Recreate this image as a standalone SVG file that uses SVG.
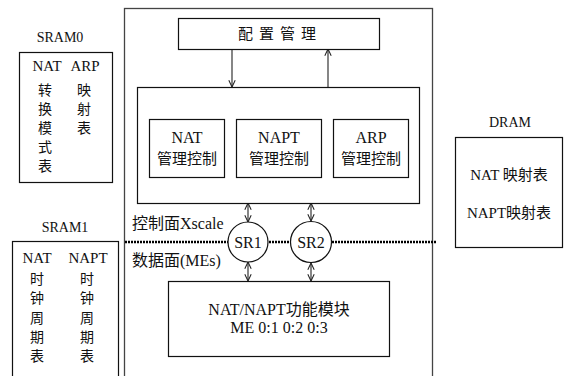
<svg xmlns="http://www.w3.org/2000/svg" width="564" height="376" viewBox="0 0 564 376">
  <style>
    text { font-family: "Liberation Serif", "Times New Roman", "Noto Sans CJK SC", serif; fill: #111; }
    .lat { font-family: "Liberation Serif", "Times New Roman", serif; }
    .t14 { font-size: 14px; }
    .t15 { font-size: 15px; }
    .t16 { font-size: 16px; }
    .mid { text-anchor: middle; }
    .box { fill: #fff; stroke: #111; stroke-width: 1.2; }
    .outer { fill: none; stroke: #444; stroke-width: 1.3; }
    .conn { fill: none; stroke: #222; stroke-width: 1.1; }
    .dot { fill: none; stroke: #000; stroke-width: 2.6; stroke-dasharray: 2 1; }
  </style>
  <defs>
    <marker id="vhead" viewBox="0 0 10 10" refX="9.5" refY="5" markerWidth="8" markerHeight="8" markerUnits="userSpaceOnUse" orient="auto-start-reverse">
      <path d="M1,1 L9.5,5 L1,9" fill="none" stroke="#222" stroke-width="1.3"/>
    </marker>
  </defs>

  <rect width="564" height="376" fill="#fff"/>

  <!-- system boundary, open at the bottom -->
  <rect id="outer" class="outer" x="124.5" y="8.5" width="308" height="380"/>

  <!-- control / data plane separator -->
  <g id="plane-split">
    <line class="dot" x1="125" y1="242" x2="436" y2="242"/>
    <text class="t16" x="132" y="229">控制面Xscale</text>
    <text class="t16" x="132" y="266">数据面(MEs)</text>
  </g>

  <g id="connectors">
    <line class="conn" x1="232" y1="49" x2="232" y2="87" marker-end="url(#vhead)"/>
    <line class="conn" x1="328" y1="87" x2="328" y2="49" marker-end="url(#vhead)"/>
    <line class="conn" x1="248" y1="203" x2="248" y2="222" marker-start="url(#vhead)" marker-end="url(#vhead)"/>
    <line class="conn" x1="311" y1="203" x2="311" y2="221" marker-start="url(#vhead)" marker-end="url(#vhead)"/>
    <line class="conn" x1="248" y1="262" x2="248" y2="281" marker-start="url(#vhead)" marker-end="url(#vhead)"/>
    <line class="conn" x1="311" y1="263" x2="311" y2="281" marker-start="url(#vhead)" marker-end="url(#vhead)"/>
  </g>

  <g id="config">
    <rect class="box" x="178.5" y="18.5" width="201" height="31"/>
    <text class="t15 mid" x="280" y="39" letter-spacing="6">配置管理</text>
  </g>

  <g id="control">
    <rect class="box" x="137.5" y="87.5" width="282" height="116"/>
  </g>

  <g id="nat-ctrl">
    <rect class="box" x="149.5" y="119.5" width="75" height="58"/>
    <text class="t16 mid lat" x="187" y="143">NAT</text>
    <text class="t15 mid" x="187" y="164">管理控制</text>
  </g>
  <g id="napt-ctrl">
    <rect class="box" x="236.5" y="119.5" width="85" height="58"/>
    <text class="t16 mid lat" x="279" y="143">NAPT</text>
    <text class="t15 mid" x="279" y="164">管理控制</text>
  </g>
  <g id="arp-ctrl">
    <rect class="box" x="333.5" y="119.5" width="75" height="58"/>
    <text class="t16 mid lat" x="371" y="143">ARP</text>
    <text class="t15 mid" x="371" y="164">管理控制</text>
  </g>

  <g id="sr1">
    <circle class="box" cx="248" cy="242" r="20"/>
    <text class="t16 mid lat" x="248" y="248">SR1</text>
  </g>
  <g id="sr2">
    <circle class="box" cx="311" cy="242" r="20.5"/>
    <text class="t16 mid lat" x="311" y="248">SR2</text>
  </g>

  <g id="me-block">
    <rect class="box" x="168.5" y="281.5" width="221" height="75"/>
    <text class="t16 mid" x="279" y="315">NAT/NAPT功能模块</text>
    <text class="t16 mid lat" x="279" y="333">ME 0:1 0:2 0:3</text>
  </g>

  <g id="sram0">
    <text class="t14 mid lat" x="60" y="42">SRAM0</text>
    <rect class="box" x="19.5" y="52.5" width="93" height="130"/>
    <text class="t15 mid lat" x="47" y="71">NAT</text>
    <text class="t15 mid lat" x="85" y="71">ARP</text>
    <text class="t14 mid" x="45">
      <tspan x="45" y="95">转</tspan><tspan x="45" y="114">换</tspan><tspan x="45" y="133">模</tspan><tspan x="45" y="152">式</tspan><tspan x="45" y="171">表</tspan>
    </text>
    <text class="t14 mid" x="84">
      <tspan x="84" y="95">映</tspan><tspan x="84" y="114">射</tspan><tspan x="84" y="133">表</tspan>
    </text>
  </g>

  <g id="sram1">
    <text class="t14 mid lat" x="65" y="232">SRAM1</text>
    <rect class="box" x="12.5" y="241.5" width="106" height="140"/>
    <text class="t15 mid lat" x="37" y="263">NAT</text>
    <text class="t15 mid lat" x="88" y="263">NAPT</text>
    <text class="t14 mid" x="37">
      <tspan x="37" y="284">时</tspan><tspan x="37" y="303">钟</tspan><tspan x="37" y="323">周</tspan><tspan x="37" y="342">期</tspan><tspan x="37" y="361">表</tspan>
    </text>
    <text class="t14 mid" x="87">
      <tspan x="87" y="284">时</tspan><tspan x="87" y="303">钟</tspan><tspan x="87" y="323">周</tspan><tspan x="87" y="342">期</tspan><tspan x="87" y="361">表</tspan>
    </text>
  </g>

  <g id="dram">
    <text class="t14 mid lat" x="510" y="127">DRAM</text>
    <rect class="box" x="455.5" y="137.5" width="107" height="110"/>
    <text class="t15 mid" x="509" y="180">NAT 映射表</text>
    <text class="t15 mid" x="509" y="218">NAPT映射表</text>
  </g>
</svg>
